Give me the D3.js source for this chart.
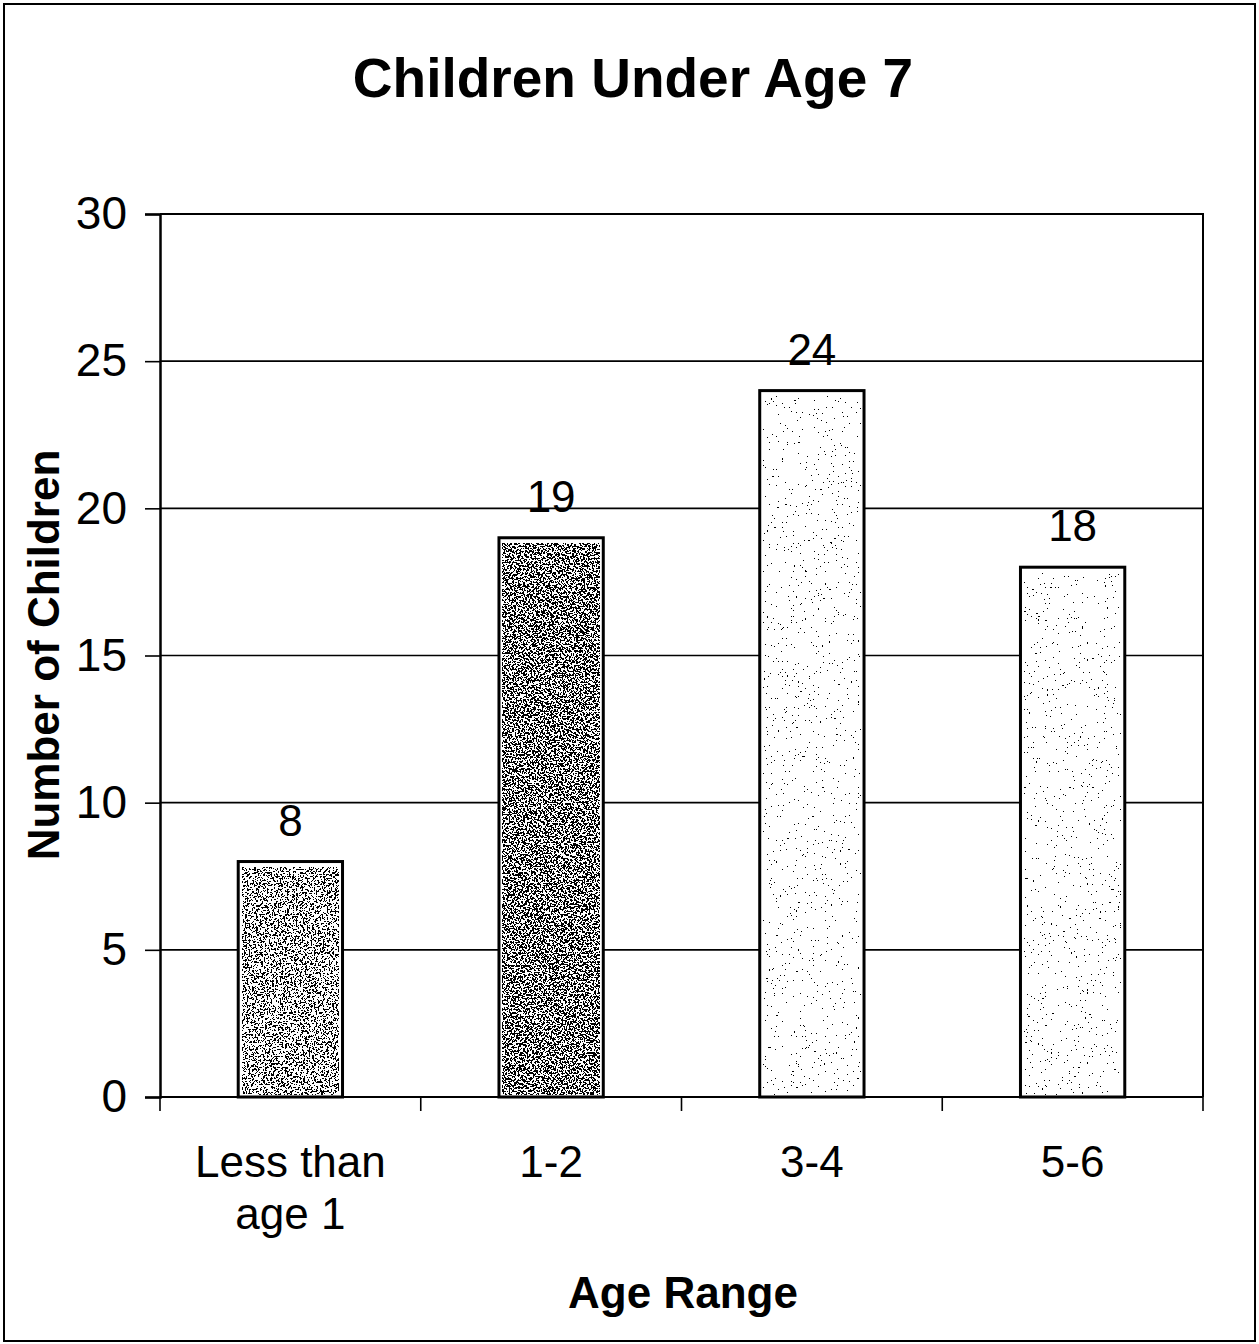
<!DOCTYPE html>
<html>
<head>
<meta charset="utf-8">
<script src="https://cdn.jsdelivr.net/npm/d3@7"></script>
<style>
  html, body { margin: 0; padding: 0; background: #fff; }
  svg { display: block; }
  text { font-family: "Liberation Sans", Arial, Helvetica, sans-serif; fill: #000; }
</style>
</head>
<body>
<svg id="chart" width="1259" height="1344"></svg>
<script>
// ---- data ----
const categories = [["Less than", "age 1"], ["1-2"], ["3-4"], ["5-6"]];
const values = [8, 19, 24, 18];
const shades = ["dark", "darker", "light", "light"];
const yTicks = [0, 5, 10, 15, 20, 25, 30];
const title = "Children Under Age 7";
const xTitle = "Age Range";
const yTitle = "Number of Children";

const svg = d3.select("#chart");
const W = 1259, H = 1344;
const m = { left: 160, right: 1203, top: 214, bottom: 1097 };

// defs: stipple filters
const defs = svg.append("defs");
function stipple(id, nOn, freq, seed) {
  const table = d3.range(20).map(k => (k < nOn ? 1 : 0)).join(" ");
  const f = defs.append("filter").attr("id", id)
    .attr("x", 0).attr("y", 0).attr("width", 1).attr("height", 1)
    .attr("color-interpolation-filters", "sRGB");
  f.append("feTurbulence").attr("type", "fractalNoise")
    .attr("baseFrequency", freq).attr("numOctaves", 3).attr("seed", seed).attr("result", "n");
  f.append("feColorMatrix").attr("type", "matrix")
    .attr("values", "0 0 0 0 0  0 0 0 0 0  0 0 0 0 0  1 0 0 0 0");
  const ct = f.append("feComponentTransfer");
  ct.append("feFuncA").attr("type", "discrete").attr("tableValues", table);
}
stipple("stip-dark", 9, 0.55, 4);
stipple("stip-darker", 10, 0.55, 7);
stipple("stip-light", 5, 0.55, 9);

// outer frame
svg.append("rect").attr("x", 4).attr("y", 4).attr("width", W - 8).attr("height", H - 7)
  .attr("fill", "none").attr("stroke", "#000").attr("stroke-width", 2);

const idx = d3.range(categories.length);
const x = d3.scaleBand().domain(idx).range([m.left, m.right])
  .paddingInner(0.6).paddingOuter(0.3);
const y = d3.scaleLinear().domain([0, 30]).range([m.bottom, m.top]);
const step = x.step();
const bandStart = i => x(i) - x.paddingOuter() * step;

// gridlines
svg.append("g").selectAll("line").data(yTicks.filter(t => t > 0 && t < 30)).join("line")
  .attr("x1", m.left).attr("x2", m.right)
  .attr("y1", d => y(d)).attr("y2", d => y(d))
  .attr("stroke", "#000").attr("stroke-width", 1.6);

// plot frame top/right
svg.append("path")
  .attr("d", `M${m.left},${m.top}H${m.right}V${m.bottom}`)
  .attr("fill", "none").attr("stroke", "#000").attr("stroke-width", 2);

// bars
const bars = svg.append("g");
idx.forEach(i => {
  const bx = x(i), bw = x.bandwidth(), by = y(values[i]), bh = y(0) - y(values[i]);
  bars.append("rect").attr("x", bx).attr("y", by).attr("width", bw).attr("height", bh)
    .attr("fill", "#fff");
  bars.append("rect").attr("x", bx + 4).attr("y", by + 6).attr("width", bw - 8).attr("height", bh - 8)
    .attr("filter", `url(#stip-${shades[i]})`)
    .attr("fill", "#fff");
  bars.append("rect").attr("x", bx).attr("y", by).attr("width", bw).attr("height", bh)
    .attr("fill", "none").attr("stroke", "#000").attr("stroke-width", 3);
  bars.append("text").attr("x", bx + bw / 2).attr("y", by - 26)
    .attr("text-anchor", "middle").attr("font-size", 44).text(values[i]);
});

// y axis
const yAxis = d3.axisLeft(y).tickValues(yTicks).tickSize(15).tickPadding(18);
const gy = svg.append("g").attr("transform", `translate(${m.left},0)`).call(yAxis);
gy.select(".domain").attr("stroke", "#000").attr("stroke-width", 2.5);
gy.selectAll(".tick line").attr("stroke", "#000").attr("stroke-width", 1.6);
gy.selectAll(".tick text").attr("font-size", 46)
  .attr("font-family", '"Liberation Sans", Arial, sans-serif').attr("fill", "#000");

// x axis baseline and ticks at category boundaries
const bounds = idx.map(bandStart).concat([m.right]);
svg.append("line").attr("x1", m.left).attr("x2", m.right)
  .attr("y1", m.bottom).attr("y2", m.bottom).attr("stroke", "#000").attr("stroke-width", 2);
svg.append("g").selectAll("line").data(bounds).join("line")
  .attr("x1", d => d).attr("x2", d => d)
  .attr("y1", m.bottom).attr("y2", m.bottom + 14)
  .attr("stroke", "#000").attr("stroke-width", 1.6);

// x category labels
const xl = svg.append("g");
idx.forEach(i => {
  const t = xl.append("text").attr("x", x(i) + x.bandwidth() / 2).attr("y", 1177)
    .attr("text-anchor", "middle").attr("font-size", 44);
  categories[i].forEach((line, k) => {
    t.append("tspan").attr("x", x(i) + x.bandwidth() / 2).attr("dy", k === 0 ? 0 : 52).text(line);
  });
});

// titles
svg.append("text").attr("x", 633).attr("y", 97).attr("text-anchor", "middle")
  .attr("font-size", 55).attr("font-weight", "bold").text(title);
svg.append("text").attr("x", 683).attr("y", 1308).attr("text-anchor", "middle")
  .attr("font-size", 44).attr("font-weight", "bold").text(xTitle);
svg.append("text").attr("transform", "translate(59,655) rotate(-90)")
  .attr("text-anchor", "middle").attr("font-size", 44).attr("font-weight", "bold").text(yTitle);
</script>
</body>
</html>
